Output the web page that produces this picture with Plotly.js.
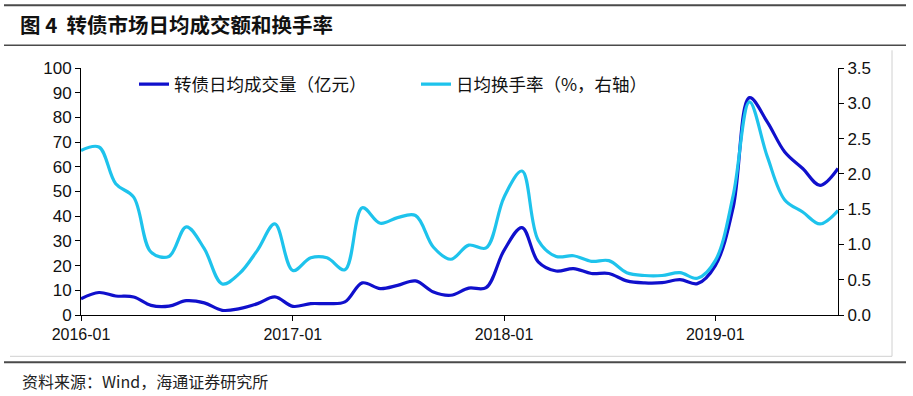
<!DOCTYPE html>
<html>
<head>
<meta charset="utf-8">
<script src="https://cdn.plot.ly/plotly-3.0.1.min.js"></script>
<style>html,body{margin:0;padding:0;background:#fff;}#chart{width:913px;height:396px;}</style>
</head>
<body>
<div id="chart"></div>
<script>
// Monthly data, 2016-01 .. 2019-08
const months = [
  "2016-01-01","2016-02-01","2016-03-01","2016-04-01","2016-05-01","2016-06-01",
  "2016-07-01","2016-08-01","2016-09-01","2016-10-01","2016-11-01","2016-12-01",
  "2017-01-01","2017-02-01","2017-03-01","2017-04-01","2017-05-01","2017-06-01",
  "2017-07-01","2017-08-01","2017-09-01","2017-10-01","2017-11-01","2017-12-01",
  "2018-01-01","2018-02-01","2018-03-01","2018-04-01","2018-05-01","2018-06-01",
  "2018-07-01","2018-08-01","2018-09-01","2018-10-01","2018-11-01","2018-12-01",
  "2019-01-01","2019-02-01","2019-03-01","2019-04-01","2019-05-01","2019-06-01",
  "2019-07-01","2019-08-01"
];
// 转债日均成交量（亿元）
const volume = [
  6.6, 9.1, 7.7, 7.3, 3.9, 3.6, 5.8, 4.9, 1.9, 2.6, 4.6, 7.3,
  3.5, 4.6, 4.6, 5.3, 13.0, 10.7, 12.0, 13.8, 9.3, 8.0, 10.9, 11.1,
  26.2, 35.4, 21.5, 17.8, 18.8, 16.8, 16.8, 13.8, 13.0, 13.1, 14.3, 12.7,
  20.0, 43.7, 88.0, 78.1, 66.0, 59.3, 52.5, 59.3
];
// 日均换手率（%，右轴）
const turnover = [
  2.33, 2.38, 1.86, 1.67, 0.89, 0.83, 1.25, 0.94, 0.44, 0.59, 0.92, 1.29,
  0.63, 0.81, 0.81, 0.64, 1.52, 1.30, 1.38, 1.41, 0.96, 0.79, 0.99, 0.95,
  1.67, 2.04, 1.06, 0.83, 0.84, 0.76, 0.77, 0.60, 0.56, 0.56, 0.60, 0.52,
  0.77, 1.70, 3.02, 2.24, 1.63, 1.46, 1.29, 1.48
];
const seriesNames = ["转债日均成交量（亿元）", "日均换手率（%，右轴）"];
const titleText = "<b>图 4  转债市场日均成交额和换手率</b>";
const sourceText = "资料来源：Wind，海通证券研究所";

// geometry helpers (pixel -> paper)
const L = 81, R = 838, T = 67.7, B = 314.7;
const px = x => (x - L) / (R - L);
const py = y => (B - y) / (B - T);

const cjk = '"Noto Sans CJK SC", "Noto Sans", sans-serif';
const latin = '"Liberation Sans", Arial, sans-serif';

const traces = [
  {x: months, y: volume, name: seriesNames[0], type: 'scatter', mode: 'lines',
   line: {color: '#1010CC', width: 3.2, shape: 'spline', smoothing: 1}, yaxis: 'y'},
  {x: months, y: turnover, name: seriesNames[1], type: 'scatter', mode: 'lines',
   line: {color: '#1EC3EC', width: 3.2, shape: 'spline', smoothing: 1}, yaxis: 'y2'}
];

const layout = {
  width: 913, height: 396,
  margin: {l: L, r: 913 - R, t: T, b: 396 - B, pad: 0},
  paper_bgcolor: '#fff', plot_bgcolor: '#fff',
  showlegend: true,
  title: {text: titleText, x: 20/913, xanchor: 'left', xref: 'container',
          y: 1 - 26/396, yanchor: 'middle', yref: 'container',
          font: {family: cjk, size: 20.5, color: '#111'}},
  xaxis: {type: 'date', range: ['2016-01-01', '2019-08-01'],
          tick0: '2016-01-01', dtick: 'M12', tickformat: '%Y-%m',
          showgrid: false, zeroline: false, showline: true, linecolor: '#000', linewidth: 1,
          ticks: 'outside', ticklen: 5, tickcolor: '#000',
          tickfont: {family: latin, size: 16, color: '#111'}},
  yaxis: {range: [0, 100], dtick: 10, showgrid: false, zeroline: false,
          showline: true, linecolor: '#000', linewidth: 1,
          ticks: 'outside', ticklen: 5, tickcolor: '#000',
          tickfont: {family: latin, size: 17, color: '#111'}},
  yaxis2: {range: [0, 3.5], dtick: 0.5, tickformat: '.1f', overlaying: 'y', side: 'right',
          showgrid: false, zeroline: false, showline: true, linecolor: '#000', linewidth: 1,
          ticks: 'outside', ticklen: 5, tickcolor: '#000',
          tickfont: {family: latin, size: 17, color: '#111'}},
  legend: {orientation: 'h', x: px(134), xanchor: 'left', y: py(84), yanchor: 'middle',
           bgcolor: 'rgba(0,0,0,0)', borderwidth: 0,
           entrywidth: 237, entrywidthmode: 'pixels',
           font: {family: cjk, size: 17.5, color: '#111'}},
  annotations: [
    {text: sourceText, xref: 'paper', yref: 'paper', x: px(20), y: py(381), xanchor: 'left', yanchor: 'middle',
     showarrow: false, font: {family: cjk, size: 16, color: '#222'}}
  ],
  shapes: [
    {type: 'line', xref: 'paper', yref: 'paper', x0: px(4), x1: px(906), y0: py(5), y1: py(5), line: {color: '#4a4a4a', width: 2}},
    {type: 'line', xref: 'paper', yref: 'paper', x0: px(4), x1: px(906), y0: py(45), y1: py(45), line: {color: '#4a4a4a', width: 1.5}},
    {type: 'line', xref: 'paper', yref: 'paper', x0: px(4), x1: px(906), y0: py(362), y1: py(362), line: {color: '#4a4a4a', width: 2}},
    {type: 'line', xref: 'paper', yref: 'paper', x0: px(892), x1: px(892), y0: py(50), y1: py(356), line: {color: '#d0d0d0', width: 1}},
    {type: 'line', xref: 'paper', yref: 'paper', x0: px(10), x1: px(892), y0: py(356), y1: py(356), line: {color: '#d0d0d0', width: 1}}
  ]
};

Plotly.newPlot('chart', traces, layout, {staticPlot: true, displayModeBar: false});
</script>
</body>
</html>
